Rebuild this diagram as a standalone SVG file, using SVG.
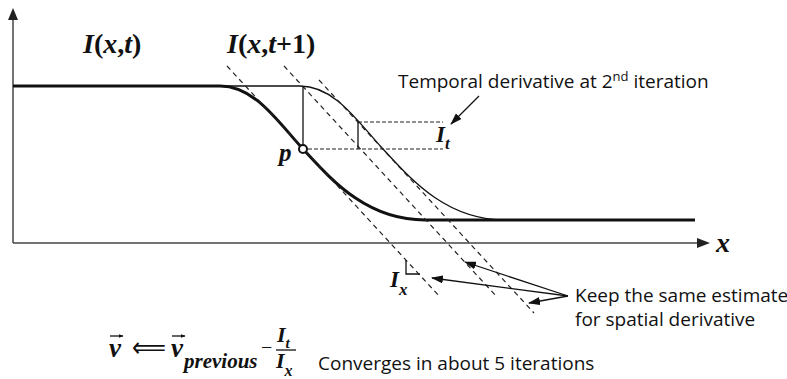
<svg xmlns="http://www.w3.org/2000/svg" width="787" height="379" viewBox="0 0 787 379">
<style>
.axis{stroke:#444;stroke-width:1.5;fill:none}
.thick{stroke:#111;stroke-width:3;fill:none}
.thin{stroke:#111;stroke-width:1.3;fill:none}
.dash{stroke:#222;stroke-width:1.2;fill:none;stroke-dasharray:5 4}
.hdash{stroke:#222;stroke-width:1.2;fill:none;stroke-dasharray:4 2}
.ptr{stroke:#111;stroke-width:1.3;fill:none}
.math{font-family:"Liberation Serif",serif;font-weight:bold;font-style:italic;fill:#111}
.up{font-style:normal}
.sans{font-family:"Open Sans","Noto Sans",sans-serif;font-size:19px;fill:#111}
</style>
<defs>
<marker id="ah" markerWidth="12" markerHeight="8" refX="11" refY="4" orient="auto" markerUnits="userSpaceOnUse">
<path d="M0,0 L12,4 L0,8 Z" fill="#111"/>
</marker>
<marker id="vh" markerWidth="5" markerHeight="4" refX="4.5" refY="2" orient="auto" markerUnits="userSpaceOnUse">
<path d="M0,0 L5,2 L0,4 Z" fill="#111"/>
</marker>
</defs>

<g id="axes">
<line class="axis" x1="13" y1="243" x2="13" y2="18"/>
<path d="M13,8 L8,20 L18,20 Z" fill="#222"/>
<line class="axis" x1="13" y1="243" x2="699" y2="243"/>
<path d="M710,243 L697,238 L697,248 Z" fill="#222"/>
<text class="math" x="716" y="252" font-size="28">x</text>
</g>

<g id="curve-t">
<path class="thick" d="M13,86 L220,86 C255,86 278,122 303,149 C330,178 365,220 425,220 L695,220"/>
<text class="math" x="83" y="53" font-size="28">I<tspan class="up">(</tspan>x<tspan class="up">,</tspan>t<tspan class="up">)</tspan></text>
</g>

<g id="curve-t1">
<path class="thin" d="M220,86 L300,86 C335,86 358,122 383,149 C410,178 445,220 505,220"/>
<text class="math" x="227" y="53" font-size="28">I<tspan class="up">(</tspan>x<tspan class="up">,</tspan>t<tspan class="up">+1)</tspan></text>
</g>

<g id="tangents">
<line class="dash" x1="227" y1="66" x2="440" y2="297"/>
<line class="dash" x1="284" y1="66" x2="497" y2="297"/>
<line class="dash" x1="319" y1="80" x2="534" y2="313"/>
<polyline class="thin" stroke="#444" points="406,260 406,274 420,274"/>
<text class="math" x="390" y="287" font-size="23">I<tspan font-size="17" dy="8">x</tspan></text>
</g>

<g id="point-p">
<line class="thin" x1="303" y1="86" x2="303" y2="145"/>
<circle cx="303" cy="149" r="4" fill="#fff" stroke="#111" stroke-width="2"/>
<text class="math" x="279" y="161" font-size="25">p</text>
</g>

<g id="temporal">
<line class="hdash" x1="358" y1="122" x2="443" y2="122"/>
<line class="hdash" x1="308" y1="149" x2="443" y2="149"/>
<line class="thin" x1="358" y1="122" x2="358" y2="149"/>
<text class="math" x="436" y="142" font-size="23">I<tspan font-size="17" dy="7">t</tspan></text>
</g>

<g id="connectors">
<line class="ptr" x1="568" y1="296" x2="465" y2="262" marker-end="url(#ah)"/>
<line class="ptr" x1="568" y1="296" x2="432" y2="278" marker-end="url(#ah)"/>
<line class="ptr" x1="568" y1="296" x2="529" y2="303" marker-end="url(#ah)"/>
<line class="ptr" x1="479" y1="96" x2="451" y2="124" marker-end="url(#ah)"/>
</g>

<g id="label-temporal">
<text class="sans" x="398" y="88">Temporal derivative at 2<tspan font-size="13" dy="-7">nd</tspan><tspan dy="7"> iteration</tspan></text>
</g>

<g id="label-keep">
<text class="sans" x="575" y="302" font-size="18">Keep the same estimate</text>
<text class="sans" x="575" y="326" font-size="18">for spatial derivative</text>
</g>

<g id="formula">
<text class="math" x="109" y="357" font-size="27">v</text>
<line class="ptr" x1="110" y1="336" x2="123" y2="336" marker-end="url(#vh)"/>
<text x="132" y="357" font-family="DejaVu Sans,sans-serif" font-size="28" fill="#111" textLength="34" lengthAdjust="spacingAndGlyphs">⟸</text>
<text class="math" x="171" y="357" font-size="27">v</text>
<line class="ptr" x1="172" y1="336" x2="185" y2="336" marker-end="url(#vh)"/>
<text class="math" x="184" y="368" font-size="21">previous</text>
<text x="261" y="354" font-family="Liberation Serif,serif" font-size="20" fill="#111">−</text>
<text class="math" x="277" y="342" font-size="22">I<tspan font-size="15" dy="6">t</tspan></text>
<line x1="276" y1="350" x2="296" y2="350" stroke="#111" stroke-width="1.3"/>
<text class="math" x="276" y="368" font-size="22">I<tspan font-size="16" dy="8">x</tspan></text>
<text class="sans" x="318" y="370">Converges in about 5 iterations</text>
</g>
</svg>
